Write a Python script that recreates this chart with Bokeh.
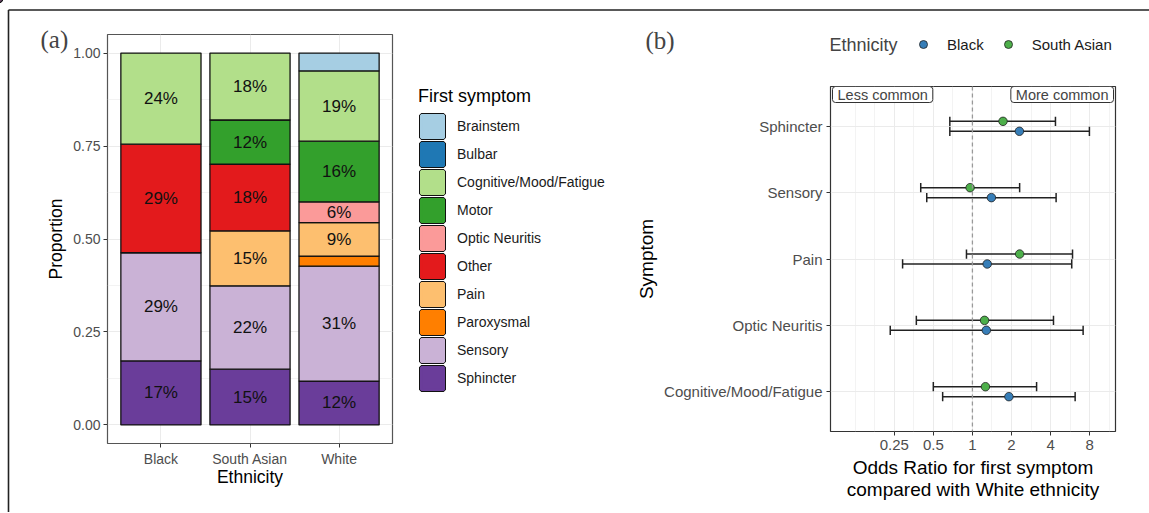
import numpy as np
from bokeh.plotting import figure
from bokeh.models import (ColumnDataSource, FactorRange, Range1d, FixedTicker,
                          NumeralTickFormatter, CustomJSTickFormatter, Legend,
                          LegendItem, Label, Span)
from bokeh.transform import dodge
from bokeh.embed import file_html
from bokeh.resources import INLINE
from bokeh.core.properties import value

# ---------------- data: panel (a) ----------------
ethnicities = ["Black", "South Asian", "White"]
symptoms = ["Brainstem", "Bulbar", "Cognitive/Mood/Fatigue", "Motor", "Optic Neuritis",
            "Other", "Pain", "Paroxysmal", "Sensory", "Sphincter"]
symptom_colors = ["#A6CEE3", "#1F78B4", "#B2DF8A", "#33A02C", "#FB9A99",
                  "#E31A1C", "#FDBF6F", "#FF7F00", "#CAB2D6", "#6A3D9A"]
black_prop = [0.0, 0.0, 0.245, 0.0, 0.0, 0.292, 0.0, 0.0, 0.291, 0.172]
south_asian_prop = [0.0, 0.0, 0.180, 0.119, 0.0, 0.179, 0.148, 0.0, 0.224, 0.150]
white_prop = [0.048, 0.0, 0.189, 0.163, 0.056, 0.0, 0.090, 0.027, 0.309, 0.118]
prop_ticks = [0.0, 0.25, 0.5, 0.75, 1.0]

# ---------------- data: panel (b) ----------------
or_symptoms = ["Sphincter", "Sensory", "Pain", "Optic Neuritis", "Cognitive/Mood/Fatigue"]
black_or = [2.30, 1.40, 1.30, 1.28, 1.91]
black_lo = [0.67, 0.445, 0.29, 0.233, 0.59]
black_hi = [7.96, 4.41, 5.82, 7.12, 6.18]
sa_or = [1.72, 0.96, 2.31, 1.24, 1.26]
sa_lo = [0.67, 0.40, 0.90, 0.37, 0.50]
sa_hi = [4.36, 2.31, 5.90, 4.21, 3.12]
or_ticks = [0.25, 0.5, 1, 2, 4, 8]
eth_names = ["Black", "South Asian"]
eth_colors = ["#377EB8", "#4DAF4A"]

FONT = "Liberation Sans"
TICK_COL = "#4D4D4D"
GRID_COL = "#EBEBEB"
PAGE_W, PAGE_H = 1149, 512


def style_axes(p, tick_size, title_size, tick_standoff, title_standoff):
    for ax in (p.xaxis[0], p.yaxis[0]):
        ax.axis_line_color = None
        ax.major_tick_line_color = "#333333"
        ax.major_tick_out = 4
        ax.major_tick_in = 0
        ax.minor_tick_line_color = None
        ax.major_label_text_font = FONT
        ax.major_label_text_font_size = tick_size
        ax.major_label_text_color = TICK_COL
        ax.major_label_standoff = tick_standoff
        ax.axis_label_text_font = FONT
        ax.axis_label_text_font_size = title_size
        ax.axis_label_text_font_style = "normal"
        ax.axis_label_text_color = "#000000"
        ax.axis_label_text_line_height = 1.05
        ax.axis_label_standoff = title_standoff


# ================= panel (a) =================
A_X0, A_W = 0, 633
FA_W, FA_H = 285, 409
A_LEFT, A_TOP = 107, 34
pa = figure(width=A_W, height=PAGE_H,
            x_range=FactorRange(factors=ethnicities, range_padding=0.1,
                                range_padding_units="absolute"),
            y_range=Range1d(-0.05, 1.05),
            min_border_left=A_LEFT, min_border_right=A_W - A_LEFT - FA_W,
            min_border_top=A_TOP, min_border_bottom=PAGE_H - A_TOP - FA_H,
            toolbar_location=None, output_backend="svg",
            styles={"position": "absolute", "left": f"{A_X0}px", "top": "0px"})
pa.outline_line_color = "#555555"
pa.outline_line_width = 1.2

props = {"Black": black_prop, "South Asian": south_asian_prop, "White": white_prop}
bottoms = {e: 0.0 for e in ethnicities}
lab_x, lab_y, lab_t = [], [], []
for i in reversed(range(len(symptoms))):
    xs, b, t = [], [], []
    for e in ethnicities:
        v = props[e][i]
        if v > 0:
            xs.append(e)
            b.append(bottoms[e])
            t.append(bottoms[e] + v)
            if v >= 0.05:
                lab_x.append(e)
                lab_y.append(bottoms[e] + v / 2)
                lab_t.append(f"{round(v * 100):d}%")
            bottoms[e] += v
    src = ColumnDataSource(dict(x=xs, bottom=b, top=t))
    pa.vbar(x="x", bottom="bottom", top="top", width=0.9, source=src,
            fill_color=symptom_colors[i], line_color="#111111", line_width=1.3)

pa.text(x=lab_x, y=lab_y, text=lab_t, text_align="center", text_baseline="middle",
        text_font_size="17px", text_font=value(FONT), text_color="#111111")

pa.yaxis.ticker = FixedTicker(ticks=prop_ticks, minor_ticks=[0.125, 0.375, 0.625, 0.875])
pa.yaxis.formatter = NumeralTickFormatter(format="0.00")
pa.ygrid.grid_line_color = GRID_COL
pa.ygrid.minor_grid_line_color = GRID_COL
pa.ygrid.minor_grid_line_width = 0.6
pa.xgrid.grid_line_color = GRID_COL
pa.xaxis.axis_label = "Ethnicity"
pa.yaxis.axis_label = "Proportion"
style_axes(pa, "14px", "17.5px", 3, 4)
pa.xaxis.axis_label_standoff = -3

# ================= panel (b) =================
B_X0 = 633
B_W = 515
FB_W, FB_H = 286, 345
B_LEFT, B_TOP = 196, 86
LOG_MIN, LOG_MAX = -3.63, 3.66
pb = figure(width=B_W, height=PAGE_H, x_axis_type="log",
            x_range=Range1d(2 ** LOG_MIN, 2 ** LOG_MAX),
            y_range=FactorRange(factors=list(reversed(or_symptoms)), range_padding=0.1,
                                range_padding_units="absolute"),
            min_border_left=B_LEFT, min_border_right=B_W - B_LEFT - FB_W,
            min_border_top=B_TOP, min_border_bottom=PAGE_H - B_TOP - FB_H,
            toolbar_location=None, output_backend="svg",
            styles={"position": "absolute", "left": f"{B_X0}px", "top": "0px"})
pb.outline_line_color = "#333333"
pb.outline_line_width = 1.2

pb.xaxis.ticker = FixedTicker(ticks=or_ticks,
                              minor_ticks=[2 ** (k / 2) for k in range(-6, 8) if k % 2 or k == -6])
pb.xaxis.formatter = CustomJSTickFormatter(code="return String(tick)")
pb.xgrid.grid_line_color = GRID_COL
pb.xgrid.minor_grid_line_color = GRID_COL
pb.xgrid.minor_grid_line_width = 0.6
pb.ygrid.grid_line_color = GRID_COL
pb.xaxis.axis_label = "Odds Ratio for first symptom\ncompared with White ethnicity"
pb.yaxis.axis_label = "Symptom"
style_axes(pb, "15px", "19px", 4, 4)

pb.add_layout(Span(location=1, dimension="height", line_color="#999999",
                   line_dash="4 3", line_width=1.3))

series = [("South Asian", 0.075, sa_or, sa_lo, sa_hi),
          ("Black", -0.075, black_or, black_lo, black_hi)]
srcs = {}
for name, off, est, lo, hi in series:
    src = ColumnDataSource(dict(sym=or_symptoms, est=est, lo=lo, hi=hi))
    srcs[name] = src
    yc = dodge("sym", off, range=pb.y_range)
    pb.segment(x0="lo", x1="hi", y0=yc, y1=yc, source=src, line_color="#222222", line_width=1.5)
    for col in ("lo", "hi"):
        pb.segment(x0=col, x1=col, y0=dodge("sym", off - 0.07, range=pb.y_range),
                   y1=dodge("sym", off + 0.07, range=pb.y_range), source=src,
                   line_color="#222222", line_width=1.5)
for name, off, est, lo, hi in series:
    pb.scatter(x="est", y=dodge("sym", off, range=pb.y_range), source=srcs[name],
               size=8.5, fill_color=eth_colors[eth_names.index(name)],
               line_color="#222222", line_width=0.8)

y_top = len(or_symptoms) + 0.1
pb.add_layout(Label(x=2 ** LOG_MIN, y=y_top, x_offset=2, y_offset=0, text="Less common",
                    text_align="left", text_baseline="top", text_font=FONT,
                    text_font_size="14.5px", border_line_color="#333333",
                    background_fill_color="white", padding=(5, 0), border_radius=3))
pb.add_layout(Label(x=2 ** LOG_MAX, y=y_top, x_offset=-2, y_offset=0, text="More common",
                    text_align="right", text_baseline="top", text_font=FONT,
                    text_font_size="14.5px", border_line_color="#333333",
                    background_fill_color="white", padding=(5, 0), border_radius=3))

# ================= overlay (free texts, legends, outer frame) =================
ov = figure(width=PAGE_W, height=PAGE_H, x_range=Range1d(0, PAGE_W),
            y_range=Range1d(PAGE_H, 0), x_axis_location=None, y_axis_location=None,
            min_border=0, toolbar_location=None, output_backend="svg", title=None,
            background_fill_color=None, border_fill_color=None, outline_line_color=None,
            styles={"position": "absolute", "left": "0px", "top": "0px"})
ov.grid.visible = False

# legend (a): key proxies off-canvas
legend_items = []
for s, c in zip(symptoms, symptom_colors):
    psrc = ColumnDataSource(dict(x=[-1000], bottom=[-1000], top=[-990]))
    r1 = ov.vbar(x="x", bottom="bottom", top="top", width=5, source=psrc,
                 fill_color=c, line_color="#111111", line_width=4.6)
    r2 = ov.vbar(x="x", bottom="bottom", top="top", width=5, source=psrc,
                 fill_color=c, line_color=c, line_width=2.6)
    legend_items.append(LegendItem(label=s, renderers=[r1, r2]))
leg_a = Legend(items=legend_items, location=(418, PAGE_H - 392),
               glyph_width=28, glyph_height=28, spacing=0,
               label_standoff=11, margin=0, padding=0, title="First symptom",
               title_text_font=FONT, title_text_font_size="18px",
               title_text_font_style="normal", title_text_color="#000000",
               title_standoff=5, label_text_font=FONT, label_text_font_size="14px",
               label_text_color="#1A1A1A", border_line_color=None, background_fill_alpha=0)
ov.add_layout(leg_a)

# legend (b)
items_b = []
for n, c in zip(eth_names, eth_colors):
    r = ov.scatter(x=[-1000], y=[-1000], size=8.5, fill_color=c, line_color="#222222",
                   line_width=0.8)
    items_b.append(LegendItem(label=n, renderers=[r]))
leg_b = Legend(items=items_b, orientation="horizontal", location=(913, PAGE_H - 54),
               glyph_width=20, glyph_height=20, label_height=20, label_standoff=14,
               spacing=14, padding=0, margin=0, label_text_font=FONT,
               label_text_font_size="15px", label_text_color="#1A1A1A",
               border_line_color=None, background_fill_alpha=0)
ov.add_layout(leg_b)

ov.add_layout(Label(x=829, y=44, text="Ethnicity", text_align="left", text_baseline="middle",
                    text_font=FONT, text_font_size="18px"))
ov.add_layout(Label(x=40, y=39, text="(a)", text_align="left", text_baseline="middle",
                    text_font="Liberation Serif", text_font_size="25px"))
ov.add_layout(Label(x=645, y=40, text="(b)", text_align="left", text_baseline="middle",
                    text_font="Liberation Serif", text_font_size="25px"))
# outer frame of the figure (top and left edges)
ov.segment(x0=[8, 8], y0=[9.5, 9.5], x1=[PAGE_W, 8], y1=[9.5, PAGE_H],
           line_color="#222222", line_width=1.6)

open("out.html", "w").write(file_html([pa, pb, ov], INLINE, "chart"))
